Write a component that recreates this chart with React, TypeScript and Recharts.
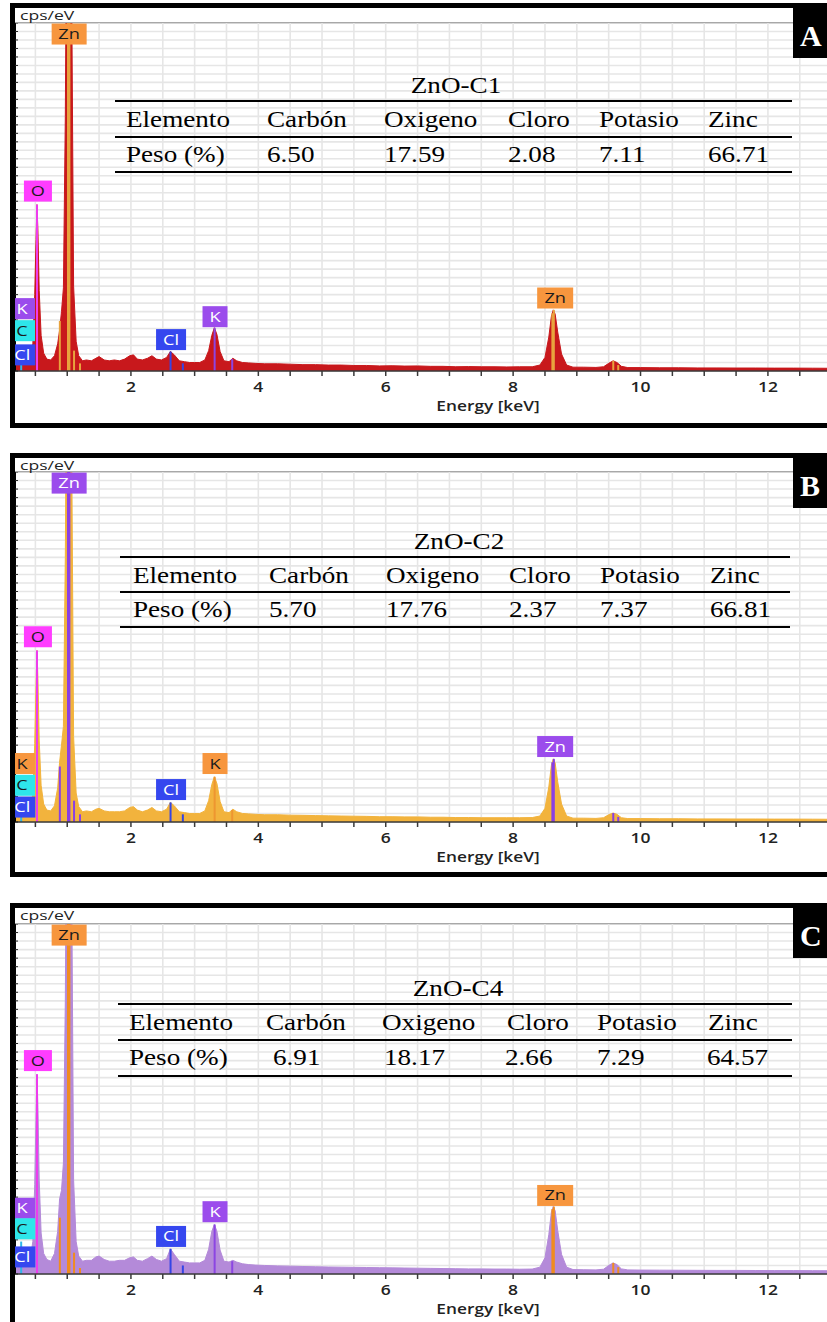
import React from "react";
import {
  ComposedChart,
  Area,
  XAxis,
  YAxis,
  CartesianGrid,
  ReferenceLine,
  ReferenceDot
} from "recharts";

// energy channels (keV) shared by the three spectra
const energyKeV = [
  0.18, 0.22, 0.26, 0.28, 0.3, 0.34, 0.38, 0.42, 0.46, 0.49,
  0.51, 0.525, 0.54, 0.56, 0.59, 0.63, 0.68, 0.74, 0.8, 0.85,
  0.88, 0.91, 0.94, 0.97, 0.99, 1.01, 1.03, 1.05, 1.07, 1.1,
  1.14, 1.18, 1.24, 1.3, 1.38, 1.45, 1.5, 1.58, 1.66, 1.74,
  1.82, 1.9, 1.98, 2.04, 2.1, 2.18, 2.26, 2.33, 2.4, 2.48,
  2.56, 2.62, 2.68, 2.76, 2.84, 2.92, 3.0, 3.08, 3.16, 3.22,
  3.27, 3.31, 3.35, 3.4, 3.46, 3.54, 3.6, 3.66, 3.75, 3.85,
  3.95, 4.1, 4.3, 4.5, 4.7, 4.9, 5.1, 5.3, 5.5, 5.7,
  5.9, 6.1, 6.3, 6.5, 6.7, 6.9, 7.1, 7.3, 7.5, 7.7,
  7.9, 8.1, 8.3, 8.42, 8.5, 8.56, 8.6, 8.63, 8.66, 8.7,
  8.76, 8.84, 8.94, 9.1, 9.3, 9.42, 9.5, 9.57, 9.63, 9.7,
  9.8, 10.0, 10.3, 10.6, 10.9, 11.2, 11.5, 11.8, 12.1, 12.4,
  12.7, 13.0, 13.2
];

// intensity (cps/eV) per sample
const cpsC1 = [
  1.2, 1.6, 1.9, 2.1, 1.8, 1.3, 1.1, 1.5, 3.2, 9.0,
  15.5, 19.6, 16.5, 9.5, 4.2, 2.1, 1.4, 1.3, 1.8, 3.2,
  4.8, 7.0, 9.8, 30, 55, 65, 65, 60, 45, 10,
  3.5, 1.8, 1.2, 1.3, 1.2, 1.5, 1.7, 1.3, 1.2, 1.3,
  1.2, 1.4, 1.8, 1.9, 1.4, 1.3, 1.5, 1.8, 1.4, 1.3,
  1.6, 2.3, 1.9, 1.2, 1.1, 1.0, 1.0, 1.0, 1.3, 2.4,
  4.2, 5.1, 4.3, 2.3, 1.2, 1.1, 1.5, 1.2, 1.0, 0.95,
  0.9, 0.85, 0.85, 0.8, 0.75, 0.75, 0.7, 0.7, 0.65, 0.65,
  0.6, 0.62, 0.58, 0.6, 0.55, 0.55, 0.5, 0.52, 0.5, 0.5,
  0.48, 0.5, 0.5, 0.7, 1.6, 4.0, 6.4, 7.2, 6.7, 4.6,
  2.0, 0.7, 0.45, 0.45, 0.42, 0.5, 0.9, 1.2, 1.0, 0.55,
  0.4, 0.4, 0.38, 0.38, 0.36, 0.36, 0.35, 0.35, 0.34, 0.34,
  0.33, 0.32, 0.32
];

const cpsC2 = [
  1.1, 1.5, 1.8, 2.0, 1.7, 1.2, 1.0, 1.4, 3.3, 9.2,
  16.0, 20.1, 16.8, 9.6, 4.3, 2.1, 1.4, 1.3, 1.9, 4.0,
  7.0, 9.0, 11.2, 31, 55, 65, 65, 60, 44, 10,
  3.4, 1.8, 1.2, 1.3, 1.2, 1.5, 1.6, 1.3, 1.2, 1.2,
  1.2, 1.3, 1.7, 1.8, 1.4, 1.2, 1.4, 1.7, 1.3, 1.2,
  1.5, 2.3, 1.9, 1.2, 1.1, 1.0, 1.0, 1.0, 1.3, 2.5,
  4.4, 5.3, 4.5, 2.4, 1.2, 1.1, 1.5, 1.2, 1.0, 0.95,
  0.9, 0.85, 0.85, 0.8, 0.78, 0.75, 0.72, 0.7, 0.68, 0.66,
  0.62, 0.62, 0.6, 0.6, 0.56, 0.56, 0.52, 0.52, 0.5, 0.5,
  0.5, 0.5, 0.52, 0.7, 1.6, 4.1, 6.6, 7.4, 6.9, 4.7,
  2.1, 0.7, 0.45, 0.45, 0.42, 0.5, 0.85, 1.05, 0.9, 0.5,
  0.4, 0.4, 0.38, 0.38, 0.36, 0.36, 0.35, 0.35, 0.34, 0.34,
  0.33, 0.32, 0.32
];

const cpsC4 = [
  1.4, 1.9, 2.4, 2.8, 2.3, 1.6, 1.3, 1.8, 3.8, 10.5,
  18.5, 23.4, 19.5, 11.0, 4.8, 2.4, 1.7, 1.5, 2.4, 5.0,
  8.8, 9.8, 13.0, 32, 55, 65, 65, 60, 46, 11,
  3.8, 2.1, 1.5, 1.6, 1.6, 2.0, 2.1, 1.7, 1.5, 1.5,
  1.6, 1.6, 1.9, 2.0, 1.6, 1.5, 1.8, 2.1, 1.7, 1.5,
  1.8, 2.95, 2.3, 1.5, 1.4, 1.3, 1.3, 1.3, 1.6, 2.9,
  5.0, 5.8, 5.0, 2.8, 1.5, 1.4, 1.6, 1.4, 1.2, 1.1,
  1.05, 1.0, 0.95, 0.92, 0.88, 0.85, 0.82, 0.8, 0.78, 0.76,
  0.74, 0.72, 0.7, 0.68, 0.66, 0.64, 0.62, 0.6, 0.6, 0.58,
  0.58, 0.56, 0.58, 0.8, 1.9, 4.6, 7.2, 7.9, 7.4, 5.1,
  2.3, 0.8, 0.52, 0.5, 0.48, 0.56, 1.0, 1.3, 1.1, 0.6,
  0.48, 0.46, 0.45, 0.44, 0.43, 0.42, 0.42, 0.41, 0.4, 0.4,
  0.39, 0.38, 0.38
];

// characteristic X-ray lines marked under the spectra
const lineElement = ["C", "O", "Zn", "Zn", "Zn", "Zn", "Zn", "Cl", "Cl", "K", "K", "Zn", "Zn", "Zn", "Zn"];
const lineKeV = [0.277, 0.525, 0.884, 1.012, 1.034, 1.107, 1.2, 2.622, 2.815, 3.314, 3.59, 8.616, 8.639, 9.572, 9.65];
const lineC1 = [2.6, 19.6, 5.9, 60, 60, 2.4, 0.9, 2.3, 0.9, 5.1, 1.4, 6.8, 7.2, 1.2, 0.7];
const lineC2 = [2.4, 20.1, 6.5, 60, 60, 2.5, 0.9, 2.3, 0.9, 5.3, 1.4, 7.0, 7.4, 1.05, 0.6];
const lineC4 = [3.8, 23.4, 6.6, 60, 60, 2.5, 0.7, 2.95, 1.0, 5.8, 1.5, 7.6, 7.9, 1.3, 0.8];

// element tags
const tagElement = ["Zn", "O", "K", "C", "Cl", "Cl", "K", "Zn"];
const tagKeV = [1.03, 0.54, 0.29, 0.29, 0.295, 2.63, 3.32, 8.66];
const tagC1 = [39.7, 21.2, 7.35, 4.75, 1.9, 3.7, 6.4, 8.6];
const tagC2 = [39.7, 21.7, 6.85, 4.3, 1.75, 3.8, 6.85, 8.84];
const tagC4 = [39.7, 25.0, 7.7, 5.3, 2.0, 4.4, 7.3, 9.2];
// box widths (px) for each tag
const tagWidth = [35, 28, 26, 26, 26, 30, 25, 36];

// EDS quantification, weight %
const tableElements = ["Carbón", "Oxigeno", "Cloro", "Potasio", "Zinc"];
const pesoC1 = [6.5, 17.59, 2.08, 7.11, 66.71];
const pesoC2 = [5.7, 17.76, 2.37, 7.37, 66.81];
const pesoC4 = [6.91, 18.17, 2.66, 7.29, 64.57];

const xTicks = [
  0.5, 1, 1.5, 2, 2.5, 3, 3.5, 4, 4.5, 5, 5.5, 6, 6.5,
  7, 7.5, 8, 8.5, 9, 9.5, 10, 10.5, 11, 11.5, 12, 12.5, 13
];
const yTicks = Array.from({ length: 42 }, (_, i) => i);

const ORANGE = "#F7963E";
const MAGENTA = "#FF3DFF";
const PURPLE = "#9B4CEC";
const CYAN = "#2EE6EA";
const BLUE = "#3547EF";
const DARK_INK = new Set([ORANGE, MAGENTA, CYAN]);

const SANS = "'Open Sans', sans-serif";
const SERIF = "'Liberation Serif', 'Times New Roman', serif";

const panels = [
  {
    letter: "A", title: "ZnO-C1", cps: cpsC1, lines: lineC1, tags: tagC1, peso: pesoC1,
    fill: "#C8181C",
    lineColor: { C: "#2FB8EA", O: "#EE3CEE", Zn: "#E8A33E", Cl: "#3445E6", K: "#8C45E2" } as Record<string, string>,
    tagColor: { Zn: ORANGE, O: MAGENTA, K: PURPLE, C: CYAN, Cl: BLUE } as Record<string, string>,
    frameTop: 3, frameBottom: 428, plotTop: 23, axisY: 371,
    rules: [101, 137, 172], ruleX: [115, 792], titleX: 456,
    cols: [126, 267, 384, 508, 599, 708], valCols: [267, 384, 508, 599, 708]
  },
  {
    letter: "B", title: "ZnO-C2", cps: cpsC2, lines: lineC2, tags: tagC2, peso: pesoC2,
    fill: "#F2B33D",
    lineColor: { C: "#2FB8EA", O: "#EE3CEE", Zn: "#8A3FE4", Cl: "#3445E6", K: "#EE9630" } as Record<string, string>,
    tagColor: { Zn: PURPLE, O: MAGENTA, K: ORANGE, C: CYAN, Cl: BLUE } as Record<string, string>,
    frameTop: 453, frameBottom: 877, plotTop: 472, axisY: 822,
    rules: [557, 592, 627], ruleX: [120, 790], titleX: 459,
    cols: [133, 269, 386, 509, 600, 710], valCols: [269, 386, 509, 600, 710]
  },
  {
    letter: "C", title: "ZnO-C4", cps: cpsC4, lines: lineC4, tags: tagC4, peso: pesoC4,
    fill: "#B48AD9",
    lineColor: { C: "#2FB8EA", O: "#EE3CEE", Zn: "#F08C20", Cl: "#3445E6", K: "#8C45E2" } as Record<string, string>,
    tagColor: { Zn: ORANGE, O: MAGENTA, K: PURPLE, C: CYAN, Cl: BLUE } as Record<string, string>,
    frameTop: 903, frameBottom: 1340, plotTop: 924, axisY: 1274,
    rules: [1004, 1040, 1076], ruleX: [118, 792], titleX: 458,
    cols: [129, 266, 382, 507, 597, 708], valCols: [273, 384, 505, 597, 707]
  }
];

const CHART_W = 830;
const AXIS_H = 50;
const X_DOMAIN: [number, number] = [0.18, 13.21];

const EnergyTick = (props: any) => {
  const { x, y, payload } = props;
  if (payload.value % 2 !== 0) return <g />;
  return (
    <text
      transform={`translate(${x},${y}) scale(1.25,1)`}
      textAnchor="middle"
      dy="0.71em"
      fontFamily={SANS}
      fontWeight={600}
      fontSize={14}
      fill="#222"
    >
      {payload.value}
    </text>
  );
};

// y ticks carry no labels, only the small marks and the grid
const BlankTick = () => <g />;

const tagShape = (text: string, fill: string, w: number) => (props: any) => {
  const { cx, cy } = props;
  return (
    <g>
      <rect x={cx - w / 2} y={cy - 10.5} width={w} height={21} fill={fill} />
      <text
        transform={`translate(${cx},${cy + 5}) scale(1.3,1)`}
        textAnchor="middle"
        fontFamily={SANS}
        fontSize={14}
        fill={DARK_INK.has(fill) ? "#1b1b1b" : "#ffffff"}
      >
        {text}
      </text>
    </g>
  );
};

const Spectrum = ({ p }: { p: (typeof panels)[number] }) => {
  const data = energyKeV.map((keV, i) => ({ keV, cps: p.cps[i] }));
  const plotH = p.axisY - p.plotTop;
  return (
    <div
      style={{
        position: "absolute",
        left: 10,
        top: p.frameTop,
        width: 840,
        height: p.frameBottom - p.frameTop,
        border: "5px solid #000",
        boxSizing: "border-box",
        background: "#fff",
        overflow: "hidden"
      }}
    >
      <div
        style={{
          position: "absolute",
          left: 0,
          top: p.plotTop - p.frameTop - 6,
          width: 830,
          height: 2,
          background: "#a8a8a8"
        }}
      />
      <div style={{ position: "absolute", left: 0, top: p.plotTop - p.frameTop - 5 }}>
        <ComposedChart
          width={CHART_W}
          height={plotH + AXIS_H}
          data={data}
          margin={{ top: 0, right: 0, bottom: 0, left: 0 }}
        >
          <CartesianGrid stroke="#e6e6e6" strokeWidth={1.6} />
          <XAxis
            type="number"
            dataKey="keV"
            domain={X_DOMAIN}
            allowDataOverflow
            ticks={xTicks}
            interval={0}
            height={AXIS_H}
            tick={EnergyTick}
            tickSize={5}
            tickMargin={6}
            axisLine={{ stroke: "#3a3a3a", strokeWidth: 1.5 }}
            tickLine={{ stroke: "#3a3a3a", strokeWidth: 1.5 }}
          />
          <YAxis
            type="number"
            domain={[0, 41]}
            allowDataOverflow
            ticks={yTicks}
            interval={0}
            mirror
            tick={BlankTick}
            tickSize={3}
            axisLine={{ stroke: "#000", strokeWidth: 2 }}
            tickLine={{ stroke: "#222", strokeWidth: 1 }}
          />
          <Area
            type="linear"
            dataKey="cps"
            stroke={p.fill}
            strokeWidth={1}
            fill={p.fill}
            fillOpacity={1}
            baseValue={0}
            dot={false}
            activeDot={false}
            isAnimationActive={false}
          />
          {lineKeV.map((keV, i) => (
            <ReferenceLine
              key={`l${i}`}
              segment={[{ x: keV, y: 0 }, { x: keV, y: p.lines[i] }]}
              stroke={p.lineColor[lineElement[i]]}
              strokeWidth={2}
              ifOverflow="hidden"
            />
          ))}
          {tagKeV.map((keV, i) => (
            <ReferenceDot
              key={`t${i}`}
              x={keV}
              y={p.tags[i]}
              r={0}
              ifOverflow="visible"
              shape={tagShape(tagElement[i], p.tagColor[tagElement[i]], tagWidth[i])}
            />
          ))}
        </ComposedChart>
      </div>
    </div>
  );
};

const Overlay = () => (
  <svg
    width={827}
    height={1322}
    style={{ position: "absolute", left: 0, top: 0, pointerEvents: "none" }}
  >
    {panels.map((p) => {
      const [r1, r2, r3] = p.rules;
      return (
        <g key={p.letter}>
          <text
            transform={`translate(20,${p.frameTop + 17}) scale(1.35,1)`}
            fontFamily={SANS}
            fontSize={13}
            fill="#222"
          >
            cps/eV
          </text>
          <text
            transform={`translate(488,${p.axisY + 40}) scale(1.28,1)`}
            textAnchor="middle"
            fontFamily={SANS}
            fontWeight={600}
            fontSize={13.5}
            fill="#222"
          >
            Energy [keV]
          </text>
          <rect x={793} y={p.frameTop + 5} width={40} height={50} fill="#000" />
          <text
            x={800}
            y={p.frameTop + 43}
            fontFamily={SERIF}
            fontWeight={700}
            fontSize={30}
            fill="#fff"
          >
            {p.letter}
          </text>

          {[r1, r2, r3].map((ry) => (
            <line key={ry} x1={p.ruleX[0]} x2={p.ruleX[1]} y1={ry} y2={ry} stroke="#000" strokeWidth={2} />
          ))}
          <text
            transform={`translate(${p.titleX},${r1 - 8}) scale(1.18,1)`}
            textAnchor="middle"
            fontFamily={SERIF}
            fontSize={23}
            fill="#000"
          >
            {p.title}
          </text>
          {["Elemento", ...tableElements].map((name, i) => (
            <text
              key={name}
              transform={`translate(${p.cols[i]},${r1 + 26}) scale(1.18,1)`}
              fontFamily={SERIF}
              fontSize={23}
              fill="#000"
            >
              {name}
            </text>
          ))}
          <text
            transform={`translate(${p.cols[0]},${r2 + 25}) scale(1.18,1)`}
            fontFamily={SERIF}
            fontSize={23}
            fill="#000"
          >
            Peso (%)
          </text>
          {p.peso.map((v, i) => (
            <text
              key={i}
              transform={`translate(${p.valCols[i]},${r2 + 25}) scale(1.18,1)`}
              fontFamily={SERIF}
              fontSize={23}
              fill="#000"
            >
              {v.toFixed(2)}
            </text>
          ))}
        </g>
      );
    })}
  </svg>
);

const App: React.FC = () => (
  <div
    style={{
      position: "absolute",
      left: 0,
      top: 0,
      width: 827,
      height: 1322,
      overflow: "hidden",
      background: "#fff"
    }}
  >
    {panels.map((p) => (
      <Spectrum key={p.letter} p={p} />
    ))}
    <Overlay />
  </div>
);

export default App;
